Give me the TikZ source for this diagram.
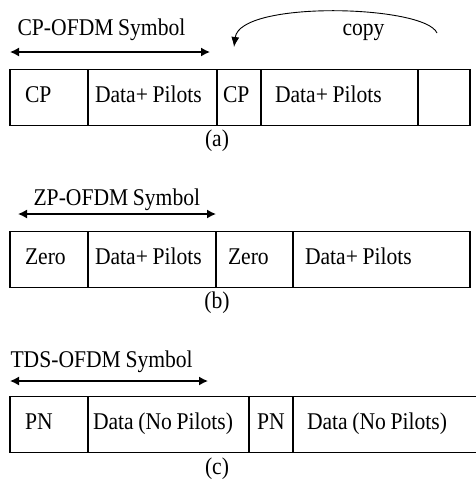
\documentclass[tikz,border=0pt]{standalone}
\usepackage{fontspec}
\setmainfont{Liberation Serif}[FakeStretch=0.9,WordSpace=0.85]
\usetikzlibrary{arrows.meta,positioning}

\tikzset{
  cell/.style 2 args={draw,outer sep=0pt,inner xsep=#2,inner ysep=0pt,text width=#1,align=left,
    execute at begin node={\spaceskip=0pt\xspaceskip=0pt\relax},
    minimum height=56pt,text height=16pt,text depth=7pt},
  title/.style={anchor=base west,inner sep=0pt},
  caption/.style={anchor=base,inner sep=0pt},
  span/.style={line width=1.4pt,{Latex[length=9pt,width=9pt]}-{Latex[length=9pt,width=9pt]}}
}

\begin{document}
\begin{tikzpicture}[x=1pt,y=-1pt,line width=1.1pt,font=\fontsize{24}{28}\selectfont]
  \useasboundingbox (0,0) rectangle (476,483);

  % (a) CP-OFDM
  \node[title]                (cpTitle)   at (17,35)         {CP-OFDM Symbol};
  \node[title]                (copyText)  at (342,35)        {copy};
  \coordinate (cpL) at (10,52);
  \coordinate (cpR) at (210,52);
  \coordinate (copyS) at (437,33);
  \coordinate (copyE) at (234,47);
  \node[cell={48pt}{15pt},anchor=west] (cpA)    at (10,97.5)          {CP};
  \node[cell={115pt}{7pt}]   (dataA)  [right=0pt of cpA]   {Data+ Pilots};
  \node[cell={32pt}{6pt}]    (cpB)    [right=0pt of dataA] {CP};
  \node[cell={129pt}{14pt}]  (dataB)  [right=0pt of cpB]   {Data+ Pilots};
  \node[cell={40pt}{6pt}]    (tailA)  [right=0pt of dataB] {};
  \node[caption]             (capA)   at (217,146)         {(a)};
  \draw[span] (cpL) -- (cpR);
  \draw[line width=0.9pt,-{Latex[length=10pt,width=8pt]}] (copyS) .. controls (425,5) and (240,0) .. (copyE);

  % (b) ZP-OFDM
  \node[title]                (zpTitle)   at (33,205)        {ZP-OFDM Symbol};
  \coordinate (zpL) at (18,214);
  \coordinate (zpR) at (216,214);
  \node[cell={48pt}{15pt},anchor=west] (zeroA)  at (10,259.5)         {Zero};
  \node[cell={114pt}{7pt}]   (dataC)  [right=0pt of zeroA] {Data+ Pilots};
  \node[cell={53pt}{12pt}]   (zeroB)  [right=0pt of dataC] {Zero};
  \node[cell={153pt}{12pt}]  (dataD)  [right=0pt of zeroB] {Data+ Pilots};
  \node[caption]             (capB)   at (217,308)         {(b)};
  \draw[span] (zpL) -- (zpR);

  % (c) TDS-OFDM
  \node[title]                (tdsTitle)  at (10,367)        {TDS-OFDM Symbol};
  \coordinate (tdsL) at (10,381);
  \coordinate (tdsR) at (208,381);
  \node[cell={48pt}{15pt},anchor=west] (pnA)    at (10,424.5)         {PN};
  \node[cell={151pt}{5pt}]   (dataE)  [right=0pt of pnA]   {Data (No Pilots)};
  \node[cell={28pt}{8pt}]    (pnB)    [right=0pt of dataE] {PN};
  \node[cell={172pt}{14pt}]  (dataF)  [right=0pt of pnB]   {Data (No Pilots)};
  \node[caption]             (capC)   at (217,474)         {(c)};
  \draw[span] (tdsL) -- (tdsR);
\end{tikzpicture}
\end{document}
